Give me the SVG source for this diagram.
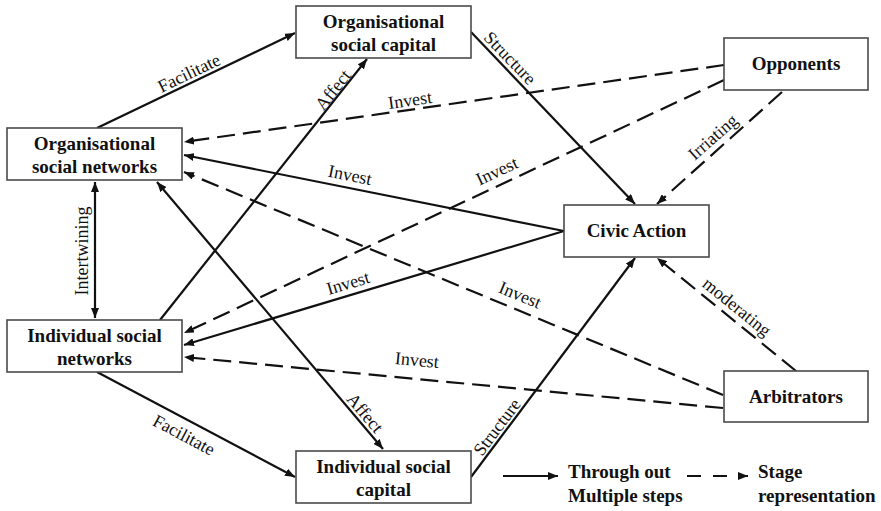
<svg xmlns="http://www.w3.org/2000/svg" width="881" height="511" viewBox="0 0 881 511">
  <style>
    .box { fill: #ffffff; stroke: #4a4a4a; stroke-width: 1.6; }
    .node-text { font-family: "Liberation Serif", "Times New Roman", serif; font-weight: bold; font-size: 19px; fill: #111; text-anchor: middle; }
    .legend-text { font-family: "Liberation Serif", "Times New Roman", serif; font-weight: bold; font-size: 19px; fill: #111; }
    .label { font-family: "Liberation Serif", "Times New Roman", serif; font-size: 18px; fill: #111; text-anchor: middle; }
    .solid { fill: none; stroke: #111; stroke-width: 2.2; marker-end: url(#arrow); }
    .dashed { fill: none; stroke: #111; stroke-width: 2.2; stroke-dasharray: 18 8; marker-end: url(#arrow); }
    .both { marker-start: url(#arrow); }
  </style>
  <defs>
    <marker id="arrow" viewBox="0 0 10 8" refX="10" refY="4" markerWidth="10" markerHeight="8" markerUnits="userSpaceOnUse" orient="auto-start-reverse">
      <path d="M0,0 L10,4 L0,8 z" fill="#111"/>
    </marker>
  </defs>
  <rect width="881" height="511" fill="#ffffff"/>

  <!-- connectors -->
  <g id="connectors">
    <path class="solid" d="M97,128 L295,33"/>
    <path class="solid" d="M160,320 L367,59"/>
    <path class="solid" d="M471,32 L635,204"/>
    <path class="dashed" d="M724,65 L184,142"/>
    <path class="dashed" d="M724,80 L184,333"/>
    <path class="dashed" d="M782,92 L657,204"/>
    <path class="solid" d="M564,231 L184,155"/>
    <path class="solid" d="M564,231 L184,345"/>
    <path class="solid both" d="M157,182 L383,449"/>
    <path class="solid both" d="M95,182 L95,318"/>
    <path class="solid" d="M97,372 L295,477"/>
    <path class="solid" d="M471,477 L635,258"/>
    <path class="dashed" d="M796,371 L657,258"/>
    <path class="dashed" d="M723,395 L184,172"/>
    <path class="dashed" d="M723,408 L184,357"/>

    <!-- connector labels -->
    <text class="label" transform="translate(189,73) rotate(-25.6)" dy="6">Facilitate</text>
    <text class="label" transform="translate(333,90) rotate(-51.6)" dy="6">Affect</text>
    <text class="label" transform="translate(510,58) rotate(46)" dy="6">Structure</text>
    <text class="label" transform="translate(410,100) rotate(-8.1)" dy="6">Invest</text>
    <text class="label" transform="translate(497,171) rotate(-25)" dy="6">Invest</text>
    <text class="label" transform="translate(713,137) rotate(-41.3)" dy="6">Irriating</text>
    <text class="label" transform="translate(350,175) rotate(11.3)" dy="6">Invest</text>
    <text class="label" transform="translate(348,283) rotate(-16.7)" dy="6">Invest</text>
    <text class="label" transform="translate(520,295) rotate(22.5)" dy="6">Invest</text>
    <text class="label" transform="translate(417,360) rotate(5.4)" dy="6">Invest</text>
    <text class="label" transform="translate(737,307) rotate(39)" dy="6">moderating</text>
    <text class="label" transform="translate(82,251) rotate(-90)" dy="6">Intertwining</text>
    <text class="label" transform="translate(365,413) rotate(49.7)" dy="6">Affect</text>
    <text class="label" transform="translate(184,435) rotate(27.9)" dy="6">Facilitate</text>
    <text class="label" transform="translate(497,427) rotate(-53)" dy="6">Structure</text>
  </g>

  <!-- nodes -->
  <g id="org-social-capital">
    <rect class="box" x="296" y="6" width="175" height="52"/>
    <text class="node-text" x="383.5" y="28">Organisational</text>
    <text class="node-text" x="383.5" y="51">social capital</text>
  </g>
  <g id="opponents">
    <rect class="box" x="724" y="38" width="144" height="52"/>
    <text class="node-text" x="796" y="70">Opponents</text>
  </g>
  <g id="org-social-networks">
    <rect class="box" x="7" y="128" width="175" height="52"/>
    <text class="node-text" x="94.5" y="150">Organisational</text>
    <text class="node-text" x="94.5" y="173">social networks</text>
  </g>
  <g id="civic-action">
    <rect class="box" x="564" y="205" width="145" height="52"/>
    <text class="node-text" x="636.5" y="237">Civic Action</text>
  </g>
  <g id="ind-social-networks">
    <rect class="box" x="7" y="320" width="175" height="52"/>
    <text class="node-text" x="94.5" y="342">Individual social</text>
    <text class="node-text" x="94.5" y="365">networks</text>
  </g>
  <g id="arbitrators">
    <rect class="box" x="724" y="371" width="144" height="51"/>
    <text class="node-text" x="796" y="403">Arbitrators</text>
  </g>
  <g id="ind-social-capital">
    <rect class="box" x="296" y="451" width="175" height="52"/>
    <text class="node-text" x="383.5" y="473">Individual social</text>
    <text class="node-text" x="383.5" y="496">capital</text>
  </g>

  <!-- legend -->
  <g id="legend">
    <path class="solid" d="M503,476 L558,476"/>
    <text class="legend-text" x="568" y="478">Through out</text>
    <text class="legend-text" x="568" y="502">Multiple steps</text>
    <path d="M687,476 L748,476" fill="none" stroke="#111" stroke-width="2.2" stroke-dasharray="14 12" marker-end="url(#arrow)"/>
    <text class="legend-text" x="758" y="478">Stage</text>
    <text class="legend-text" x="758" y="502">representation</text>
  </g>
</svg>
